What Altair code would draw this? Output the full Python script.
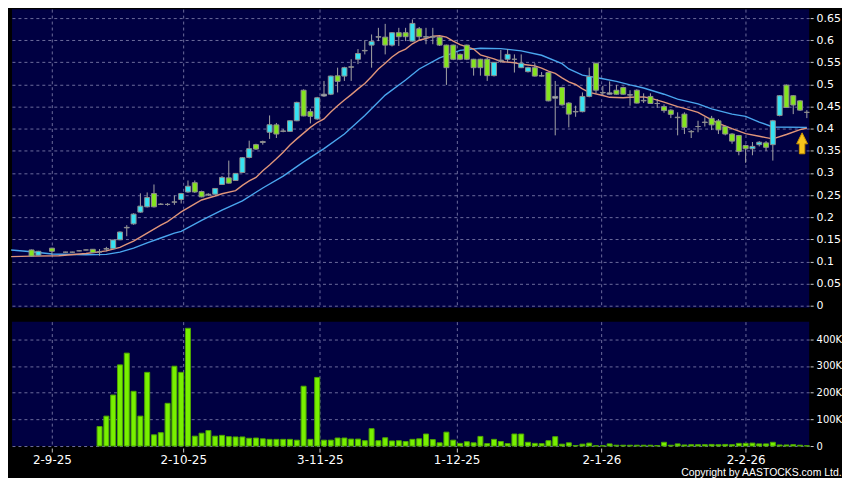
import altair as alt
import pandas as pd
import numpy as np

# ---------------- data ----------------
N = None
opens = [0.126, 0.114, N, 0.130, N, 0.121, 0.121, 0.124, 0.126, 0.1275,
         0.1215, 0.128, 0.129, 0.149, 0.176, 0.185, 0.2115, 0.2235, 0.2535, 0.229,
         0.229, 0.234, 0.240, 0.257, 0.278, 0.258, 0.250, 0.252, 0.274, 0.289,
         0.283, 0.301, 0.335, 0.364, 0.369, 0.392, 0.4087, 0.394, 0.394, 0.418,
         0.487, 0.4386, 0.422, 0.474, 0.478, 0.5196, 0.519, 0.539, 0.557, 0.576,
         0.589, 0.607, 0.607, 0.589, 0.617, 0.617, 0.598, 0.626, 0.607, 0.607,
         0.607, 0.589, 0.589, 0.568, 0.589, 0.557, 0.557, 0.557, 0.520, 0.553,
         0.557, 0.557, 0.538, 0.529, 0.538, 0.519, 0.527, 0.469, 0.493, 0.458,
         0.438, 0.4386, 0.473, 0.548, 0.481, 0.478, 0.487, 0.493, 0.476, 0.487,
         0.463, 0.473, 0.457, 0.450, 0.442, 0.425, 0.433, 0.393, 0.405, 0.414,
         0.4235, 0.4177, 0.405, 0.388, 0.3846, 0.362, 0.3547, 0.364, 0.368, 0.364,
         0.430, 0.4986, 0.4746, 0.463, 0.437]
highs = [0.127, 0.124, N, 0.131, N, 0.122, 0.122, 0.125, 0.127, 0.128,
         0.128, 0.133, 0.149, 0.168, 0.182, 0.209, 0.254, 0.256, 0.274, 0.232,
         0.232, 0.249, 0.255, 0.283, 0.283, 0.260, 0.254, 0.266, 0.293, 0.328,
         0.300, 0.336, 0.373, 0.366, 0.373, 0.430, 0.413, 0.399, 0.419, 0.461,
         0.489, 0.445, 0.472, 0.508, 0.520, 0.538, 0.540, 0.557, 0.580, 0.600,
         0.613, 0.628, 0.637, 0.618, 0.628, 0.628, 0.647, 0.630, 0.628, 0.628,
         0.609, 0.590, 0.590, 0.570, 0.590, 0.558, 0.558, 0.561, 0.551, 0.578,
         0.580, 0.568, 0.568, 0.540, 0.548, 0.528, 0.528, 0.508, 0.495, 0.460,
         0.452, 0.482, 0.538, 0.549, 0.497, 0.507, 0.499, 0.495, 0.487, 0.489,
         0.480, 0.480, 0.467, 0.455, 0.444, 0.437, 0.437, 0.397, 0.418, 0.426,
         0.429, 0.422, 0.407, 0.390, 0.386, 0.364, 0.370, 0.372, 0.372, 0.420,
         0.476, 0.500, 0.476, 0.465, 0.442]
lows = [0.111, 0.113, N, 0.115, N, 0.120, 0.120, 0.123, 0.125, 0.119,
        0.113, 0.123, 0.128, 0.148, 0.157, 0.183, 0.210, 0.222, 0.222, 0.228,
        0.226, 0.228, 0.231, 0.255, 0.255, 0.245, 0.248, 0.251, 0.273, 0.276,
        0.282, 0.300, 0.333, 0.352, 0.364, 0.377, 0.379, 0.392, 0.393, 0.417,
        0.428, 0.412, 0.420, 0.472, 0.476, 0.482, 0.508, 0.508, 0.546, 0.568,
        0.538, 0.598, 0.568, 0.586, 0.587, 0.598, 0.597, 0.600, 0.591, 0.591,
        0.587, 0.499, 0.555, 0.555, 0.555, 0.520, 0.520, 0.508, 0.518, 0.549,
        0.550, 0.527, 0.537, 0.527, 0.518, 0.518, 0.462, 0.385, 0.452, 0.403,
        0.427, 0.437, 0.471, 0.480, 0.476, 0.477, 0.477, 0.477, 0.452, 0.457,
        0.458, 0.456, 0.447, 0.436, 0.424, 0.385, 0.388, 0.379, 0.392, 0.405,
        0.397, 0.388, 0.385, 0.366, 0.340, 0.323, 0.340, 0.360, 0.350, 0.328,
        0.428, 0.447, 0.433, 0.440, 0.424]
closes = [0.112, 0.123, N, 0.123, N, 0.121, 0.121, 0.124, 0.126, 0.120,
          0.1215, 0.129, 0.1485, 0.1665, 0.177, 0.207, 0.225, 0.2445, 0.2235, 0.2295,
          0.229, 0.2346, 0.2535, 0.270, 0.257, 0.246, 0.252, 0.265, 0.290, 0.277,
          0.299, 0.3345, 0.355, 0.354, 0.371, 0.409, 0.388, 0.395, 0.418, 0.4595,
          0.429, 0.428, 0.470, 0.478, 0.519, 0.507, 0.538, 0.540, 0.570, 0.577,
          0.597, 0.608, 0.589, 0.617, 0.608, 0.608, 0.638, 0.608, 0.608, 0.608,
          0.589, 0.538, 0.557, 0.557, 0.557, 0.538, 0.538, 0.520, 0.550, 0.555,
          0.568, 0.557, 0.548, 0.538, 0.519, 0.520, 0.463, 0.473, 0.454, 0.433,
          0.439, 0.473, 0.518, 0.487, 0.482, 0.481, 0.478, 0.478, 0.477, 0.458,
          0.464, 0.457, 0.457, 0.441, 0.4325, 0.426, 0.403, 0.394, 0.405, 0.415,
          0.4087, 0.3974, 0.388, 0.372, 0.3486, 0.3547, 0.360, 0.3695, 0.358, 0.418,
          0.4746, 0.448, 0.4536, 0.442, 0.437]
volumes_k = [0, 0, 0, 0, 0, 0, 0, 0, 0, 0,
             73, 112, 191, 304, 348, 205, 112, 276, 42, 50,
             160, 299, 276, 441, 37, 48, 58, 37, 40, 35,
             34, 34, 29, 30, 27, 25, 25, 25, 25, 22,
             224, 25, 257, 22, 22, 30, 30, 26, 26, 20,
             65, 20, 31, 19, 20, 17, 25, 27, 45, 24,
             12, 52, 22, 10, 16, 12, 36, 9, 25, 17,
             9, 45, 45, 14, 10, 9, 20, 35, 7, 12,
             2, 7, 11, 1, 1, 8, 3, 3, 3, 3,
             3, 3, 2, 14, 3, 8, 4, 5, 5, 5,
             6, 5, 6, 5, 10, 10, 11, 8, 8, 14,
             4, 4, 5, 3, 1]

ma_fast_slot = [-3, 0, 4, 8, 11, 12, 13, 14, 15, 16, 17, 18, 19, 20, 21, 22, 24, 25, 27, 28,
                30, 31, 32, 33, 34, 35, 36, 37, 38, 39, 40, 41, 42, 43, 44, 45, 46, 47, 48, 49,
                50, 51, 52, 53, 54, 55, 56, 57, 58, 59, 60, 61, 62, 63, 65, 66, 68, 69, 71, 72,
                73, 74, 75, 76, 77, 78, 79, 80, 81, 82, 84, 85, 87, 88, 90, 91, 93, 95, 96, 98,
                100, 101, 103, 105, 107, 108, 109, 111, 113, 114]
ma_fast_val = [0.111, 0.112, 0.113, 0.118, 0.124, 0.128, 0.132, 0.139, 0.146, 0.155, 0.164, 0.173, 0.182, 0.190, 0.201, 0.212, 0.230, 0.239, 0.248, 0.253,
               0.260, 0.272, 0.282, 0.290, 0.305, 0.318, 0.332, 0.347, 0.363, 0.377, 0.390, 0.403, 0.414, 0.422, 0.438, 0.452, 0.465, 0.477, 0.490, 0.502,
               0.518, 0.535, 0.548, 0.562, 0.573, 0.580, 0.592, 0.600, 0.604, 0.609, 0.610, 0.607, 0.598, 0.590, 0.580, 0.567, 0.558, 0.552, 0.549, 0.546,
               0.544, 0.542, 0.537, 0.530, 0.525, 0.515, 0.506, 0.500, 0.490, 0.482, 0.475, 0.471, 0.470, 0.471, 0.472, 0.469, 0.460, 0.450, 0.446, 0.437,
               0.420, 0.412, 0.400, 0.389, 0.383, 0.380, 0.377, 0.387, 0.398, 0.401]
ma_slow_slot = [-3, 0, 3, 8, 11, 13, 15, 17, 19, 21, 22, 25, 28, 31, 34, 37, 40, 43, 46, 49,
                52, 55, 57, 60, 63, 66, 69, 72, 75, 78, 79, 81, 84, 86, 88, 90, 93, 95, 98, 100,
                103, 105, 107, 109, 114]
ma_slow_val = [0.126, 0.122, 0.117, 0.115, 0.116, 0.121, 0.130, 0.142, 0.153, 0.164, 0.168, 0.193, 0.216, 0.237, 0.266, 0.293, 0.325, 0.355, 0.388, 0.430,
               0.476, 0.510, 0.535, 0.560, 0.577, 0.582, 0.581, 0.576, 0.566, 0.547, 0.535, 0.521, 0.513, 0.507, 0.499, 0.492, 0.478, 0.467, 0.456, 0.445,
               0.433, 0.428, 0.415, 0.404, 0.403]

tick_slots = [3, 22.3, 42.4, 62.5, 83.8, 105]
tick_labels = ["2-9-25", "2-10-25", "3-11-25", "1-12-25", "2-1-26", "2-2-26"]
price_ticks = [round(0.05 * i, 2) for i in range(14)]
vol_ticks = [0, 100000, 200000, 300000, 400000]
arrow_slot = [113.3]
arrow_price = [0.367]

# ---------------- frames ----------------
n = len(opens)
df = pd.DataFrame({"slot": list(range(n)), "open": opens, "high": highs,
                   "low": lows, "close": closes,
                   "vol": [v * 1000 for v in volumes_k]})
candles = df.dropna(subset=["open"]).copy()
diff = candles["close"] - candles["open"]
candles["dir"] = np.where(diff.abs() < 0.0045, "flat", np.where(diff > 0, "up", "down"))
vols = df[df["vol"] > 0]
ma_fast = pd.DataFrame({"slot": ma_fast_slot, "v": ma_fast_val})
ma_slow = pd.DataFrame({"slot": ma_slow_slot, "v": ma_slow_val})
arrow = pd.DataFrame({"slot": arrow_slot, "v": arrow_price})

# ---------------- styling ----------------
FONT = "DejaVu Sans"
GRID = "#6c6c9c"
W = 801
label_expr = " : ".join(f"datum.value < {s + 0.5} ? '{l}'" for s, l in zip(tick_slots, tick_labels)) + " : ''"

xscale = alt.Scale(domain=[-2.88, 114.34], nice=False, zero=False, padding=0)
x_top = alt.X("slot:Q", scale=xscale,
              axis=alt.Axis(values=tick_slots, labels=False, ticks=False, domain=False,
                            grid=True, gridColor=GRID, gridDash=[3, 3], title=None))
x_bot = alt.X("slot:Q", scale=xscale,
              axis=alt.Axis(values=tick_slots, labelExpr=label_expr,
                            ticks=True, tickColor="#cccccc", tickSize=4, offset=2,
                            labelPadding=3, domain=False, grid=True, gridColor=GRID,
                            gridDash=[3, 3], title=None, labelColor="white",
                            labelFontSize=12, labelFont=FONT, labelFlush=False))

pscale = alt.Scale(domain=[-0.0045, 0.6703], nice=False, zero=False, padding=0)
p_axis = alt.Axis(orient="right", values=price_ticks, labelExpr="format(datum.value, '.2~f')",
                  domain=False, tickColor="#cccccc", tickSize=3, offset=1, labelPadding=3,
                  grid=True, gridColor=GRID, gridDash=[3, 3], labelColor="white",
                  labelFontSize=11, labelFont=FONT, title=None)

lines = alt.Chart(ma_slow).mark_line(color="#4aa6ee", strokeWidth=1.4).encode(
    x=x_top, y=alt.Y("v:Q", scale=pscale, axis=p_axis))
lines2 = alt.Chart(ma_fast).mark_line(color="#e0957a", strokeWidth=1.4).encode(
    x=x_top, y=alt.Y("v:Q", scale=pscale, axis=p_axis))

wicks = alt.Chart(candles).mark_rule(color="#a4a4a4", strokeWidth=1).encode(
    x=x_top, y=alt.Y("low:Q", scale=pscale, axis=p_axis), y2="high:Q")

bodies = alt.Chart(candles).mark_bar(size=5, stroke="#8e8e8e", strokeWidth=1).encode(
    x=x_top, y=alt.Y("open:Q", scale=pscale, axis=p_axis), y2="close:Q",
    fill=alt.Fill("dir:N", scale=alt.Scale(domain=["up", "down", "flat"],
                                           range=["#36e2f2", "#84e41e", "#a8b6c8"]),
                  legend=None))

arrow_mark = alt.Chart(arrow).mark_point(
    shape="M0,-1L0.52,0.05L0.26,0.05L0.26,1L-0.26,1L-0.26,0.05L-0.52,0.05Z",
    filled=True, fill="#f6c31c", stroke="#c99200", strokeWidth=1, size=441, opacity=1
).encode(x=x_top, y=alt.Y("v:Q", scale=pscale, axis=p_axis))

price = alt.layer(lines, lines2, wicks, bodies, arrow_mark).properties(width=W, height=300)

vscale = alt.Scale(domain=[0, 466000], nice=False, zero=True, padding=0)
v_axis = alt.Axis(orient="right", values=vol_ticks,
                  labelExpr="datum.value == 0 ? '0' : format(datum.value/1000, 'd') + 'K'",
                  domain=False, tickColor="#cccccc", tickSize=3, offset=1, labelPadding=3,
                  grid=True, gridColor=GRID, gridDash=[3, 3], labelColor="white",
                  labelFontSize=10, labelFont=FONT, title=None)
volume = alt.Chart(vols).mark_bar(size=5, fill="#78f000", stroke="#4da600", strokeWidth=1).encode(
    x=x_bot, y=alt.Y("vol:Q", scale=vscale, axis=v_axis)).properties(width=W, height=125)

chart = alt.vconcat(price, volume, spacing=11).properties(
    background="black",
    padding={"left": 0, "top": 0, "right": 0, "bottom": 0},
    title=alt.TitleParams("Copyright by AASTOCKS.com Ltd.", orient="bottom", anchor="end",
                          color="white", fontSize=10.5, font="Liberation Sans",
                          fontWeight="normal", offset=2, frame="bounds"),
).configure_view(fill="#000042", stroke=None).configure_concat(spacing=11)

chart.save("out.html", embed_options={"renderer": "svg", "actions": False})
